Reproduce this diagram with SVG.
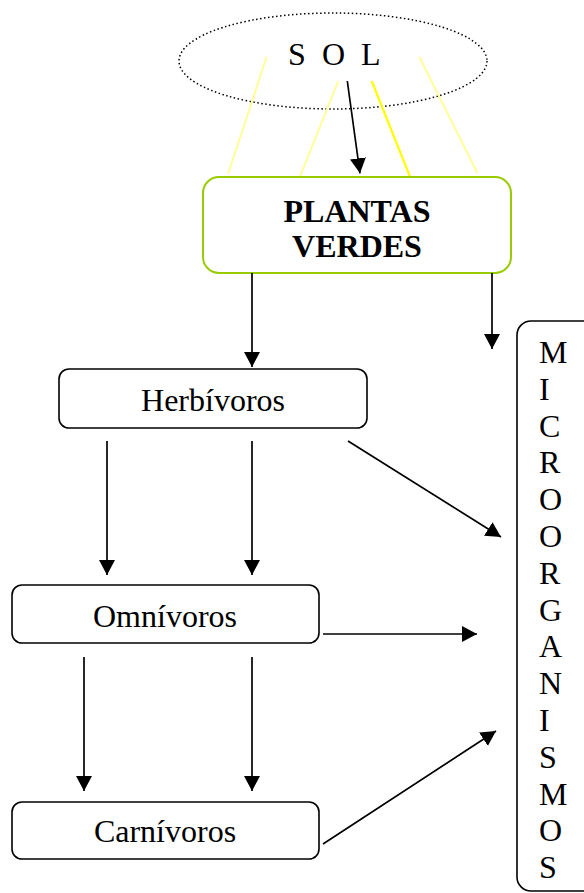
<svg xmlns="http://www.w3.org/2000/svg" width="584" height="893" viewBox="0 0 584 893">
<style>
.box{fill:#fff;stroke:#000;stroke-width:1.6}
.lbl{font-family:"Liberation Serif","Times New Roman",serif;font-size:32px;fill:#000}
.c{stroke:#000;stroke-width:1.7;fill:none;marker-end:url(#ah)}
.ray{stroke:#ffff99;stroke-width:2;fill:none}
</style>
<defs>
<marker id="ah" markerUnits="userSpaceOnUse" markerWidth="17" markerHeight="17" refX="15" refY="8" orient="auto">
<path d="M0,0 L15,8 L0,16 z" fill="#000"/>
</marker>
</defs>
<rect width="584" height="893" fill="#fff"/>
<g id="sol">
<ellipse cx="333" cy="61" rx="154" ry="48" fill="none" stroke="#000" stroke-width="1.5" stroke-dasharray="1.5 2.5"/>
<text class="lbl" y="65"><tspan x="288">S</tspan><tspan x="322">O</tspan><tspan x="361">L</tspan></text>
</g>
<g id="rays">
<line class="ray" x1="266.7" y1="56.7" x2="228.3" y2="173.3"/>
<line class="ray" x1="338.3" y1="81" x2="300" y2="176.7"/>
<line x1="371.7" y1="81" x2="410" y2="176.7" stroke="#ffff00" stroke-width="2.2"/>
<line class="ray" x1="419.3" y1="56.7" x2="477.3" y2="172.7"/>
</g>
<g id="plantas">
<rect x="203" y="177" width="308" height="96" rx="16" fill="#fff" stroke="#99cc00" stroke-width="2"/>
<text class="lbl" x="357" y="222" text-anchor="middle" font-weight="bold">PLANTAS</text>
<text class="lbl" x="357" y="257" text-anchor="middle" font-weight="bold">VERDES</text>
</g>
<g id="herbivoros">
<rect class="box" x="59" y="369" width="308" height="59" rx="10"/>
<text class="lbl" x="213" y="411" text-anchor="middle">Herbívoros</text>
</g>
<g id="omnivoros">
<rect class="box" x="12" y="585" width="307" height="58" rx="10"/>
<text class="lbl" x="165" y="627" text-anchor="middle">Omnívoros</text>
</g>
<g id="carnivoros">
<rect class="box" x="12" y="802" width="307" height="57" rx="10"/>
<text class="lbl" x="165" y="842" text-anchor="middle">Carnívoros</text>
</g>
<g id="microorganismos">
<rect class="box" x="517" y="321" width="100" height="570" rx="14"/>
<text class="lbl">
<tspan x="539" y="363">M</tspan>
<tspan x="539" y="399.8">I</tspan>
<tspan x="539" y="436.6">C</tspan>
<tspan x="539" y="473.4">R</tspan>
<tspan x="539" y="510.2">O</tspan>
<tspan x="539" y="547">O</tspan>
<tspan x="539" y="583.8">R</tspan>
<tspan x="539" y="620.6">G</tspan>
<tspan x="539" y="657.4">A</tspan>
<tspan x="539" y="694.2">N</tspan>
<tspan x="539" y="731">I</tspan>
<tspan x="539" y="767.8">S</tspan>
<tspan x="539" y="804.6">M</tspan>
<tspan x="539" y="841.4">O</tspan>
<tspan x="539" y="878.2">S</tspan>
</text>
</g>
<g id="connectors">
<line class="c" x1="347.3" y1="81" x2="360" y2="173.3"/>
<line class="c" x1="252" y1="273" x2="252" y2="367"/>
<line class="c" x1="492" y1="273" x2="492" y2="349"/>
<line class="c" x1="107" y1="441" x2="107" y2="575"/>
<line class="c" x1="252" y1="441" x2="252" y2="575"/>
<line class="c" x1="348" y1="441" x2="501" y2="537"/>
<line class="c" x1="323" y1="634" x2="477" y2="634"/>
<line class="c" x1="84" y1="657" x2="84" y2="791"/>
<line class="c" x1="252" y1="657" x2="252" y2="791"/>
<line class="c" x1="323" y1="844" x2="496" y2="731"/>
</g>
</svg>
